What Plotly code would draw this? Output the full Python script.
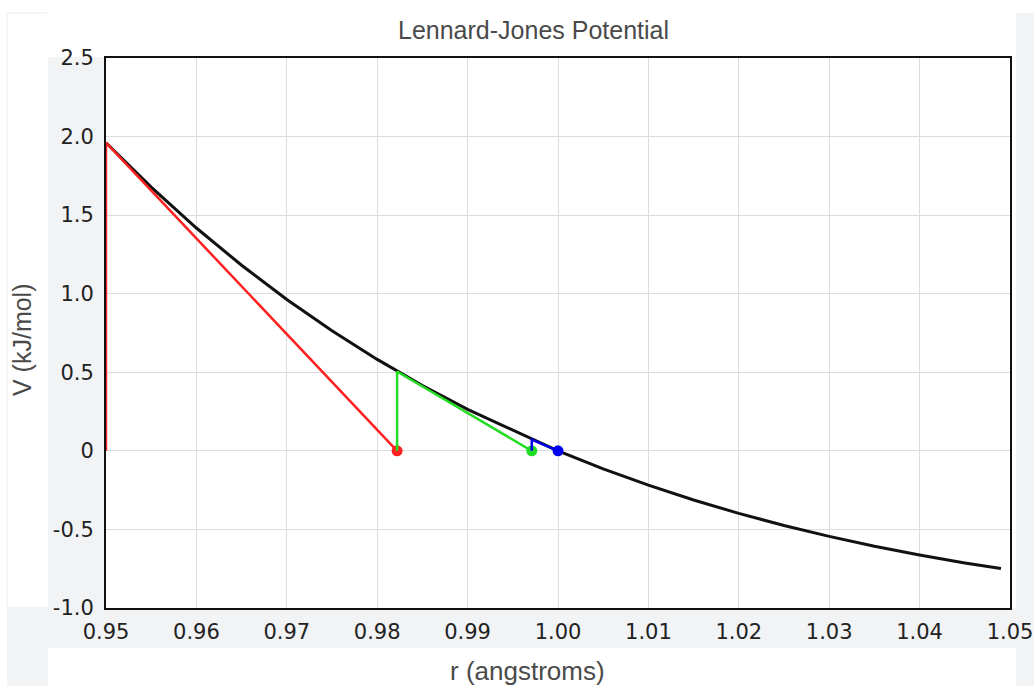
import plotly.graph_objects as go

# Lennard-Jones curve
r_vals = [0.950, 0.955, 0.960, 0.965, 0.970, 0.975, 0.980, 0.985, 0.990, 0.995,
          1.000, 1.005, 1.010, 1.015, 1.020, 1.025, 1.030, 1.035, 1.040, 1.045, 1.049]
v_vals = [1.961, 1.678, 1.418, 1.181, 0.963, 0.764, 0.582, 0.416, 0.264, 0.130,
          0.000, -0.115, -0.218, -0.313, -0.398, -0.475, -0.544, -0.607, -0.663, -0.713, -0.749]

# Newton iteration steps
red_x = [0.950, 0.950, 0.9822]
red_y = [0.0, 1.961, 0.0]
green_x = [0.9822, 0.9822, 0.9971]
green_y = [0.0, 0.505, 0.0]
blue_x = [0.9971, 0.9971, 1.0000]
blue_y = [0.0, 0.072, 0.0]

x_ticks = [0.95, 0.96, 0.97, 0.98, 0.99, 1.00, 1.01, 1.02, 1.03, 1.04, 1.05]
y_ticks = [2.5, 2.0, 1.5, 1.0, 0.5, 0.0, -0.5, -1.0]
y_tick_text = ["2.5", "2.0", "1.5", "1.0", "0.5", "0", "-0.5", "-1.0"]

fig = go.Figure()
fig.add_trace(go.Scatter(x=r_vals, y=v_vals, mode="lines",
                         line=dict(color="#111111", width=3), showlegend=False))
for xs, ys, col in [(red_x, red_y, "#ff2020"), (green_x, green_y, "#22dd22"), (blue_x, blue_y, "#0000ee")]:
    fig.add_trace(go.Scatter(x=xs, y=ys, mode="lines", line=dict(color=col, width=2.5),
                             showlegend=False))
    fig.add_trace(go.Scatter(x=[xs[-1]], y=[ys[-1]], mode="markers",
                             marker=dict(color=col, size=11), showlegend=False))

W, H = 1034, 686
L, R, T, B = 106, 1010, 58, 608
pw, ph = R - L, B - T

def px(x):
    return (x - L) / pw

def py(y):
    return (B - y) / ph

gray = "#f2f3f5"
shapes = []
for (x0, y0, x1, y1) in [(48, 57, 106, 608), (48, 608, 1016, 648), (7, 607, 48, 686), (1016, 13, 1034, 686)]:
    shapes.append(dict(type="rect", xref="paper", yref="paper", x0=px(x0), x1=px(x1),
                       y0=py(y1), y1=py(y0), fillcolor=gray, line=dict(width=0), layer="below"))
shapes.append(dict(type="line", xref="paper", yref="paper", x0=px(7), x1=px(47), y0=py(13), y1=py(13),
                   line=dict(color="#ececec", width=1)))
shapes.append(dict(type="line", xref="paper", yref="paper", x0=px(7), x1=px(7), y0=py(13), y1=py(607),
                   line=dict(color="#ececec", width=1)))

title_font = dict(family="Liberation Sans, Arial", size=25, color="#4a4a4a")
annotations = [
    dict(text="Lennard-Jones Potential", xref="paper", yref="paper", x=px(533), y=py(30),
         xanchor="center", yanchor="middle", showarrow=False, font=title_font),
    dict(text="r (angstroms)", xref="paper", yref="paper", x=px(527), y=py(671),
         xanchor="center", yanchor="middle", showarrow=False, font=dict(title_font, size=26)),
    dict(text="V (kJ/mol)", xref="paper", yref="paper", x=px(22), y=py(340),
         xanchor="center", yanchor="middle", showarrow=False, textangle=-90, font=title_font),
]

fig.update_layout(
    width=W, height=H,
    margin=dict(l=L, r=W - R, t=T, b=H - B, pad=0),
    paper_bgcolor="white", plot_bgcolor="white",
    shapes=shapes, annotations=annotations,
    xaxis=dict(range=[0.95, 1.05], tickvals=x_ticks, tickformat=".2f",
               showgrid=True, gridcolor="#dcdcdc", gridwidth=1,
               showline=True, linecolor="#111111", linewidth=2, mirror=True,
               zeroline=False, ticks="", layer="below traces", ticklabelstandoff=4,
               automargin=False, ticklabeloverflow="allow",
               tickfont=dict(family="DejaVu Sans, Verdana", size=21, color="#222222")),
    yaxis=dict(range=[-1.0, 2.5], tickvals=y_ticks, ticktext=y_tick_text,
               showgrid=True, gridcolor="#dcdcdc", gridwidth=1,
               showline=True, linecolor="#111111", linewidth=2, mirror=True,
               zeroline=False, ticks="", layer="below traces", ticklabelstandoff=6,
               automargin=False, ticklabeloverflow="allow",
               tickfont=dict(family="DejaVu Sans, Verdana", size=21, color="#222222")),
)

fig.write_html("out.html")
